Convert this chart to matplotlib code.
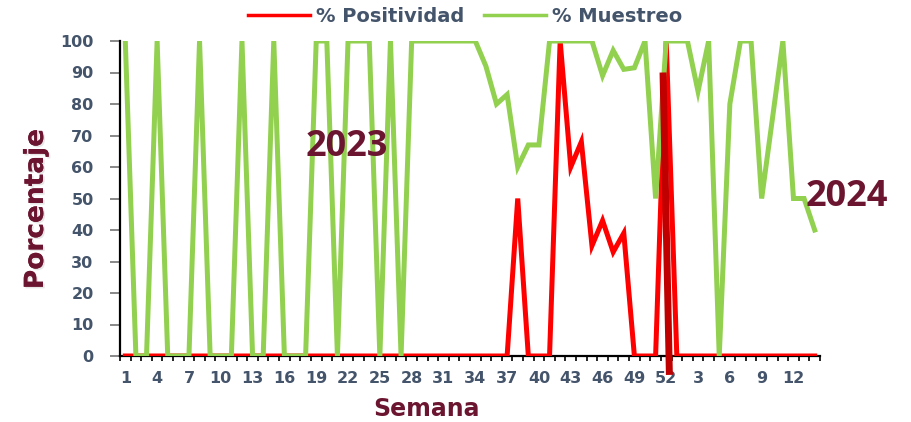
import numpy as np
import matplotlib
matplotlib.use("Agg")
import matplotlib.pyplot as plt
import matplotlib.patheffects as pe
from matplotlib.lines import Line2D
from matplotlib.ticker import FixedLocator

# Semanas epidemiologicas: 52 de 2023 y 14 de 2024
semanas_2023 = list(range(1, 53))
semanas_2024 = list(range(1, 15))
semanas = semanas_2023 + semanas_2024

positividad_2023 = [0, 0, 0, 0, 0, 0, 0, 0, 0, 0,
                    0, 0, 0, 0, 0, 0, 0, 0, 0, 0,
                    0, 0, 0, 0, 0, 0, 0, 0, 0, 0,
                    0, 0, 0, 0, 0, 0, 0, 50, 0, 0,
                    0, 100, 60, 68, 35, 43, 33, 39, 0, 0,
                    0, 100]
positividad_2024 = [0, 0, 0, 0, 0, 0, 0, 0, 0, 0, 0, 0, 0, 0]

muestreo_2023 = [100, 0, 0, 100, 0, 0, 0, 100, 0, 0,
                 0, 100, 0, 0, 100, 0, 0, 0, 100, 100,
                 0, 100, 100, 100, 0, 100, 0, 100, 100, 100,
                 100, 100, 100, 100, 92, 80, 83, 60, 67, 67,
                 100, 100, 100, 100, 100, 89, 97, 91, 91.5, 100,
                 50, 100]
muestreo_2024 = [100, 100, 84, 100, 0, 80, 100, 100, 50, 75, 100, 50, 50, 40]

positividad = positividad_2023 + positividad_2024
muestreo = muestreo_2023 + muestreo_2024

# separador entre 2023 y 2024 (posicion en el eje de semanas, porcentaje)
separador_x = [51.7, 52.3]
separador_y = [90, -6]

ROJO = "#FF0000"
VERDE = "#92D050"
GUINDA = "#6B1530"
GRIS = "#44546A"

x = np.arange(1, len(semanas) + 1)

fig = plt.figure(figsize=(9.12, 4.22), dpi=100)
ax = fig.add_axes([120 / 912, 1 - 356 / 422, 700 / 912, 315 / 422])

ax.plot(x, positividad, color=ROJO, lw=3.6, solid_joinstyle="miter", zorder=3)
ax.plot(x, muestreo, color=VERDE, lw=3.6, solid_joinstyle="miter", zorder=4)
ax.plot(separador_x, separador_y, color="#C00000", lw=5, clip_on=False, zorder=5,
        solid_capstyle="butt")

ax.set_xlim(0.5, len(semanas) + 0.5)
ax.set_ylim(0, 100)

# etiquetas cada 3 semanas, marcas entre categorias
etiquetas = [str(s) for s in semanas]
pos = x[::3]
ax.set_xticks(pos)
ax.set_xticklabels([etiquetas[i - 1] for i in pos])
ax.xaxis.set_minor_locator(FixedLocator(np.arange(0.5, len(semanas) + 1, 1)))
ax.tick_params(axis="x", which="major", length=0, pad=11, labelsize=11.5,
               labelcolor=GRIS)
ax.tick_params(axis="x", which="minor", length=3.5, width=1.2, color="black",
               direction="out")
for t in ax.get_xticklabels():
    t.set_fontweight("bold")

ax.set_yticks(range(0, 101, 10))
ax.tick_params(axis="y", length=7, width=1.3, color="#7F7F7F", pad=12,
               labelsize=11.5, labelcolor=GRIS)
for t in ax.get_yticklabels():
    t.set_fontweight("bold")

for s in ["top", "right"]:
    ax.spines[s].set_visible(False)
ax.spines["left"].set_linewidth(1.6)
ax.spines["bottom"].set_linewidth(1.6)
ax.spines["left"].set_zorder(6)

# titulos de ejes
fig.text(36 / 912, 1 - 209 / 422, "Porcentaje", rotation=90, fontsize=19,
         fontweight="bold", color=GUINDA, ha="center", va="center",
         path_effects=[pe.withSimplePatchShadow(offset=(1.2, -1.2),
                                                shadow_rgbFace="#A0A0A0",
                                                alpha=0.25),
                       pe.Normal()])
fig.text(427 / 912, 1 - 409 / 422, "Semana", fontsize=17, fontweight="bold",
         color=GUINDA, ha="center", va="center")

ax.text(21.9, 66.3, "2023", fontsize=26, fontweight="bold", color=GUINDA,
        family=["Open Sans", "DejaVu Sans"], ha="center", va="center", zorder=7)
ax.text(69.0, 50.5, "2024", fontsize=26, fontweight="bold", color=GUINDA,
        family=["Open Sans", "DejaVu Sans"], ha="center", va="center", zorder=7)

handles = [Line2D([], [], color=ROJO, lw=2.5), Line2D([], [], color=VERDE, lw=2.5)]
leg = fig.legend(handles, ["% Positividad", "% Muestreo"], loc="center",
                 bbox_to_anchor=(0.51, 0.962), ncol=2, frameon=False,
                 handlelength=3.2, handletextpad=0.3, columnspacing=1.0,
                 prop={"size": 14, "weight": "bold"})
for t in leg.get_texts():
    t.set_color(GRIS)

fig.savefig("out.png", dpi=100)
